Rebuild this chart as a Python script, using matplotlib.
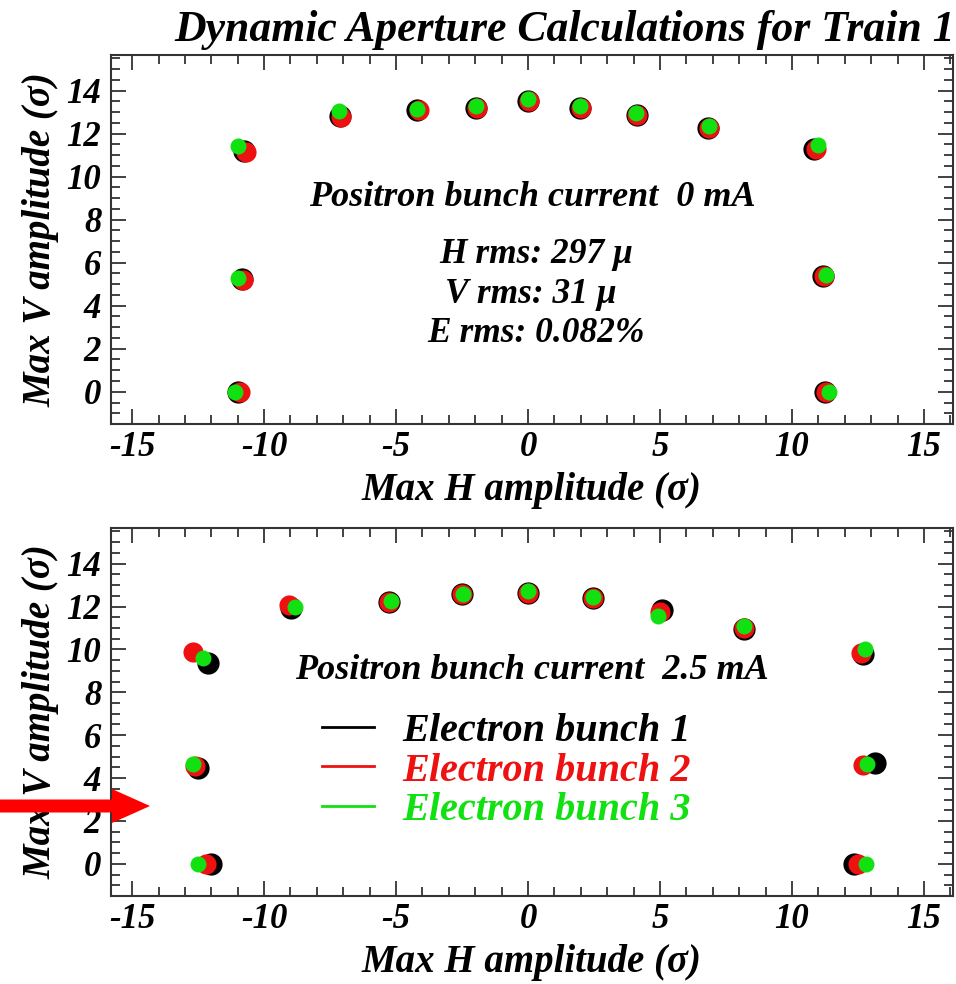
"""
Dynamic aperture plot for Train 1 - two panels, three electron bunches
"""

import matplotlib
matplotlib.use('Agg')
import matplotlib.pyplot as plt
from matplotlib.lines import Line2D
from matplotlib.patches import FancyArrow
from matplotlib.ticker import MultipleLocator

# ---- data (sigma units) ----
# top panel: positron bunch current 0 mA
top_h1 = [-11.0, -10.85, -10.75, -7.13, -4.2, -1.97, 0.0, 1.97, 4.12, 6.82, 10.85, 11.18, 11.24]
top_v1 = [0.0, 5.25, 11.2, 12.83, 13.1, 13.2, 13.53, 13.2, 12.87, 12.28, 11.3, 5.4, 0.0]
top_h2 = [-10.92, -10.8, -10.7, -7.1, -4.15, -1.95, 0.02, 1.99, 4.14, 6.84, 10.9, 11.2, 11.3]
top_v2 = [0.0, 5.22, 11.15, 12.8, 13.08, 13.18, 13.5, 13.18, 12.85, 12.25, 11.28, 5.38, 0.0]
top_h3 = [-11.1, -10.98, -10.98, -7.17, -4.2, -1.97, 0.0, 1.97, 4.1, 6.85, 10.99, 11.3, 11.39]
top_v3 = [0.0, 5.28, 11.42, 13.05, 13.15, 13.3, 13.62, 13.3, 12.95, 12.35, 11.47, 5.42, 0.0]

# bottom panel: positron bunch current 2.5 mA
bot_h1 = [-12.0, -12.5, -12.14, -8.99, -5.28, -2.51, 0.0, 2.47, 5.09, 8.18, 12.7, 13.16, 12.34]
bot_v1 = [0.0, 4.48, 9.37, 11.93, 12.2, 12.6, 12.64, 12.39, 11.86, 10.96, 9.8, 4.72, 0.0]
bot_h2 = [-12.21, -12.6, -12.71, -9.06, -5.28, -2.51, 0.0, 2.47, 5.0, 8.18, 12.63, 12.69, 12.49]
bot_v2 = [0.0, 4.55, 9.9, 12.08, 12.23, 12.6, 12.64, 12.39, 11.74, 11.0, 9.83, 4.6, 0.0]
bot_h3 = [-12.51, -12.71, -12.33, -8.83, -5.2, -2.45, 0.0, 2.47, 4.93, 8.18, 12.75, 12.84, 12.82]
bot_v3 = [0.0, 4.64, 9.6, 12.0, 12.25, 12.6, 12.7, 12.42, 11.58, 11.1, 10.03, 4.65, 0.0]

bunch_labels = ['Electron bunch 1', 'Electron bunch 2', 'Electron bunch 3']
bunch_colors = ['#000000', '#ee1111', '#11e011']
marker_sizes = [16, 14.5, 11.5]

plt.rcParams['font.family'] = ['Liberation Serif', 'DejaVu Serif']
plt.rcParams['font.weight'] = 'bold'
plt.rcParams['font.style'] = 'italic'
plt.rcParams['axes.labelweight'] = 'bold'
plt.rcParams['axes.unicode_minus'] = False


def style_axes(ax):
    ax.set_xlim(-15.8, 16.1)
    ax.set_ylim(-1.5, 15.66)
    ax.xaxis.set_major_locator(MultipleLocator(5))
    ax.xaxis.set_minor_locator(MultipleLocator(1))
    ax.yaxis.set_major_locator(MultipleLocator(2))
    ax.yaxis.set_minor_locator(MultipleLocator(0.5))
    ax.tick_params(which='both', direction='in', top=True, right=True,
                   color='#333333', width=1.3)
    ax.tick_params(which='major', length=11, labelsize=25)
    ax.tick_params(axis='x', which='major', pad=5)
    ax.tick_params(axis='y', which='major', pad=7)
    ax.tick_params(which='minor', length=6.5)
    for sp in ax.spines.values():
        sp.set_color('#333333')
        sp.set_linewidth(1.5)
    ax.set_xlabel('Max H amplitude (σ)', fontsize=28, labelpad=6)
    ax.set_ylabel('Max V amplitude (σ)', fontsize=28, labelpad=5)


fig = plt.figure(figsize=(9.56, 9.84), dpi=100)
fig.patch.set_facecolor('white')

ax1 = fig.add_axes([0.1161, 0.5691, 0.8808, 0.375])
ax2 = fig.add_axes([0.1161, 0.0894, 0.8808, 0.374])

top_sets = [(top_h1, top_v1), (top_h2, top_v2), (top_h3, top_v3)]
bot_sets = [(bot_h1, bot_v1), (bot_h2, bot_v2), (bot_h3, bot_v3)]

for (h, v), c, ms in zip(top_sets, bunch_colors, marker_sizes):
    ax1.plot(h, v, 'o', color=c, ms=ms, mec='none')
for (h, v), c, ms in zip(bot_sets, bunch_colors, marker_sizes):
    ax2.plot(h, v, 'o', color=c, ms=ms, mec='none')

style_axes(ax1)
style_axes(ax2)

# ---- top panel annotations ----
ax1.text(0.15, 9.05, 'Positron bunch current  0 mA', ha='center', va='center', fontsize=26)
ax1.text(0.3, 6.4, 'H rms: 297 μ', ha='center', va='center', fontsize=25.5)
ax1.text(0.1, 4.5, 'V rms: 31 μ', ha='center', va='center', fontsize=25.5)
ax1.text(0.3, 2.7, 'E rms: 0.082%', ha='center', va='center', fontsize=25.5)

# ---- bottom panel annotations ----
ax2.text(0.15, 9.0, 'Positron bunch current  2.5 mA', ha='center', va='center', fontsize=26)

handles = [Line2D([], [], color=c, lw=2) for c in bunch_colors]
ax2.legend(handles, bunch_labels, loc='upper left', bbox_to_anchor=(0.2506, 0.497),
           frameon=False, fontsize=29, labelcolor='linecolor', borderpad=0,
           borderaxespad=0, handlelength=1.3, handletextpad=0.7, labelspacing=0.05)

# title
fig.text(565 / 956, 1 - 30 / 984, 'Dynamic Aperture Calculations for Train 1',
         ha='center', va='center', fontsize=31.5)

# red pointer arrow on the left edge
arrow = FancyArrow(0.0, 1 - 806 / 984, 150 / 956, 0.0, width=13 / 984,
                   head_width=34 / 984, head_length=38 / 956,
                   length_includes_head=True, color='#ff0000', lw=0,
                   transform=fig.transFigure)
fig.patches.append(arrow)

fig.savefig('out.png', dpi=100, facecolor='white')
